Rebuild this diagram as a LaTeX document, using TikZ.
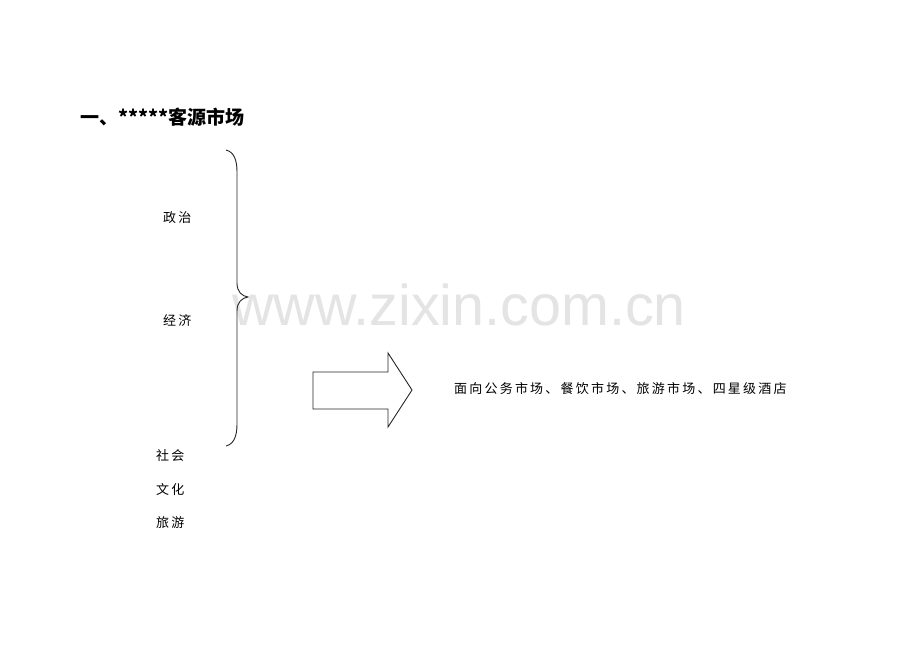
\documentclass[tikz,border=0pt]{standalone}
\usepackage{fontspec}
\setmainfont{Liberation Serif}
\newfontfamily\cjk{Noto Sans CJK SC}
\newfontfamily\cjksp[LetterSpace=17]{Noto Sans CJK SC}
\newfontfamily\wmfont{Liberation Sans}
\definecolor{wmgray}{RGB}{228,228,228}
\tikzset{
  lbl/.style={anchor=west, inner sep=0pt, font=\cjksp\fontsize{13}{13}\selectfont},
  ttl/.style={anchor=west, inner sep=0pt, font=\cjk\bfseries\fontsize{19}{19}\selectfont},
  wm/.style={anchor=base west, inner sep=0pt, text=wmgray, font=\wmfont\fontsize{57.5}{57.5}\selectfont},
  thinline/.style={line width=0.9pt, draw=black!85}
}
\begin{document}
\begin{tikzpicture}[x=1pt,y=-1pt]
\useasboundingbox (0,0) rectangle (920,651);
\fill[white] (0,0) rectangle (920,651);
% watermark
\node[wm] (wmark) at (232,325) {www.zixin.com.cn};
% title
\node[ttl] (title) at (80,117) {一、*****客源市场};
% labels
\node[lbl] (zz) at (163,218) {政治};
\node[lbl] (jj) at (163,320) {经济};
\node[lbl] (sh) at (156,456) {社会};
\node[lbl] (wh) at (156,490) {文化};
\node[lbl] (ly) at (156,523) {旅游};
\node[lbl] (res) at (454,389) {面向公务市场、餐饮市场、旅游市场、四星级酒店};
% brace
\draw[thinline] (226,150) .. controls (234,152) and (237,160) .. (237,172)
  -- (237,283) .. controls (237,292) and (242,296) .. (248,297)
  .. controls (242,298) and (237,302) .. (237,311)
  -- (237,424) .. controls (237,436) and (234,444) .. (226,446);
% block arrow
\draw[thinline, line join=miter] (313,372) -- (388,372) -- (388,353) -- (412,390)
  -- (388,427) -- (388,409) -- (313,409) -- cycle;
\end{tikzpicture}
\end{document}
